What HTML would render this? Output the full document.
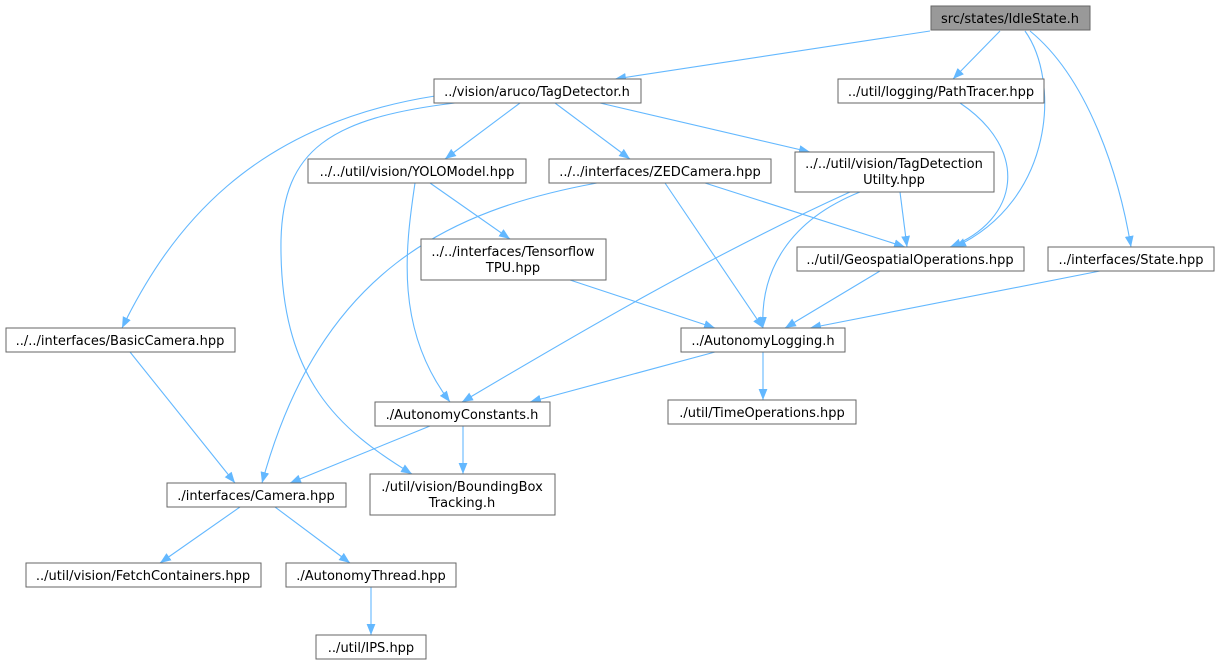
<!DOCTYPE html>
<html><head><meta charset="utf-8"><style>
html,body{margin:0;padding:0;background:#fff;}
svg{display:block;}
text{font-family:"DejaVu Sans","Liberation Sans",sans-serif;font-size:13px;fill:#000;}
</style></head><body>
<svg width="1220" height="667" viewBox="0 0 1220 667" xmlns="http://www.w3.org/2000/svg">
<defs>
<marker id="a" viewBox="0 0 10 10" refX="10" refY="5" markerWidth="11" markerHeight="11" markerUnits="userSpaceOnUse" orient="auto">
<path d="M0,1 L10,5 L0,9 z" fill="#63b8ff"/>
</marker>
</defs>
<g fill="none" stroke="#63b8ff" stroke-width="1.1" marker-end="url(#a)">
<path d="M930,31 L615,79"/>
<path d="M1000,31 L953,79"/>
<path d="M1025,31 C1060,80 1055,200 955,247"/>
<path d="M1030,31 C1090,80 1120,180 1131,247"/>
<path d="M435,96 C250,125 170,230 122,328"/>
<path d="M455,103 C330,118 283,150 281,240 C279,380 340,430 412,474"/>
<path d="M520,103 L445,159"/>
<path d="M555,103 L630,159"/>
<path d="M600,103 L810,152"/>
<path d="M430,183 L510,239"/>
<path d="M415,183 C405,250 395,330 450,402"/>
<path d="M597,183 C450,210 320,270 262,483"/>
<path d="M665,183 L763,328"/>
<path d="M705,183 L905,247"/>
<path d="M900,192 L907,247"/>
<path d="M860,192 C790,220 760,270 763,328"/>
<path d="M850,192 C700,260 550,350 462,402"/>
<path d="M960,103 C1030,150 1020,220 950,247"/>
<path d="M570,280 L715,328"/>
<path d="M880,271 L785,328"/>
<path d="M1100,271 L810,328"/>
<path d="M130,352 L235,483"/>
<path d="M715,352 L530,402"/>
<path d="M763,352 L763,400"/>
<path d="M430,426 L290,483"/>
<path d="M463,426 L463,474"/>
<path d="M240,507 L160,563"/>
<path d="M275,507 L350,563"/>
<path d="M371,587 L371,635"/>
</g>
<g stroke="#666" stroke-width="1" fill="#fff">
<rect x="931" y="6" width="159" height="24" fill="#999"/>
<rect x="434" y="79" width="207" height="24"/>
<rect x="838" y="79" width="206" height="24"/>
<rect x="308" y="159" width="218" height="24"/>
<rect x="549" y="159" width="222" height="24"/>
<rect x="795" y="152" width="199" height="40"/>
<rect x="421" y="239" width="185" height="41"/>
<rect x="797" y="247" width="227" height="24"/>
<rect x="1048" y="247" width="166" height="24"/>
<rect x="6" y="328" width="229" height="24"/>
<rect x="681" y="328" width="164" height="24"/>
<rect x="375" y="402" width="175" height="24"/>
<rect x="668" y="400" width="188" height="24"/>
<rect x="167" y="483" width="179" height="24"/>
<rect x="370" y="474" width="185" height="41"/>
<rect x="26" y="563" width="235" height="24"/>
<rect x="286" y="563" width="170" height="24"/>
<rect x="316" y="635" width="110" height="24"/>
</g>
<g text-anchor="middle">
<text x="1010" y="23">src/states/IdleState.h</text>
<text x="537" y="96">../vision/aruco/TagDetector.h</text>
<text x="941" y="96">../util/logging/PathTracer.hpp</text>
<text x="417" y="176">../../util/vision/YOLOModel.hpp</text>
<text x="660" y="176">../../interfaces/ZEDCamera.hpp</text>
<text x="894" y="168">../../util/vision/TagDetection</text>
<text x="894" y="184">Utilty.hpp</text>
<text x="513" y="256">../../interfaces/Tensorflow</text>
<text x="513" y="272">TPU.hpp</text>
<text x="910" y="264">../util/GeospatialOperations.hpp</text>
<text x="1131" y="264">../interfaces/State.hpp</text>
<text x="120" y="345">../../interfaces/BasicCamera.hpp</text>
<text x="763" y="345">../AutonomyLogging.h</text>
<text x="462" y="419">./AutonomyConstants.h</text>
<text x="762" y="417">./util/TimeOperations.hpp</text>
<text x="256" y="500">./interfaces/Camera.hpp</text>
<text x="462" y="491">./util/vision/BoundingBox</text>
<text x="462" y="507">Tracking.h</text>
<text x="143" y="580">../util/vision/FetchContainers.hpp</text>
<text x="371" y="580">./AutonomyThread.hpp</text>
<text x="371" y="652">../util/IPS.hpp</text>
</g>
</svg>
</body></html>
